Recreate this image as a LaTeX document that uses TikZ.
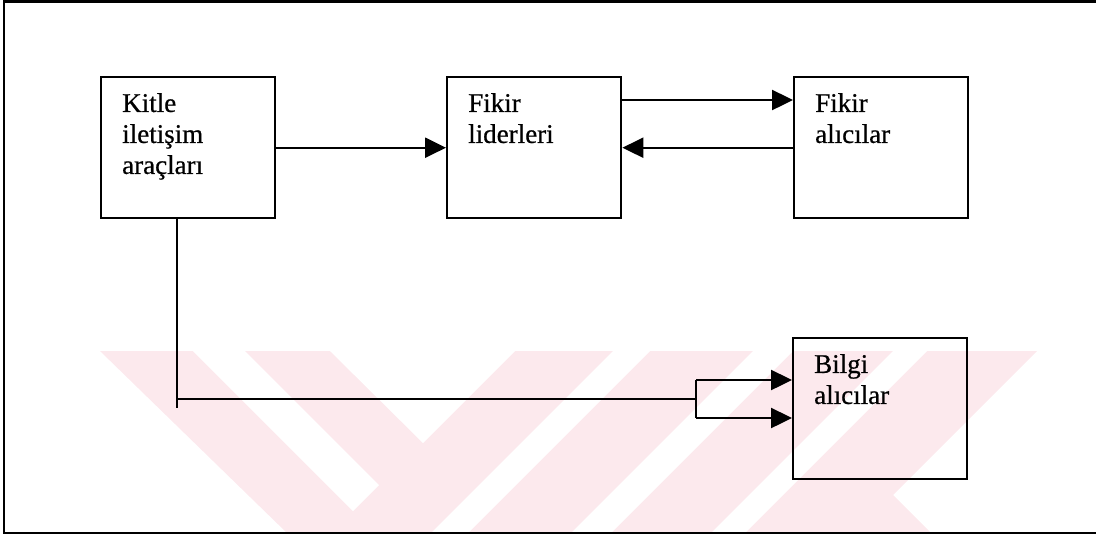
\documentclass[tikz,border=0pt]{standalone}
\usepackage{fontspec}
\setmainfont{Liberation Serif}
\newfontfamily\taramafont[FakeBold=0.6]{Liberation Serif}
\usetikzlibrary{arrows.meta,positioning,calc}
\definecolor{filigran}{RGB}{252,233,237}
\tikzset{every picture/.style={line width=1.2pt}}
\tikzset{kutu/.style={draw, minimum width=87pt, minimum height=70.5pt, anchor=north west, inner sep=0pt}}
\tikzset{yazi/.style={anchor=north west, align=left, inner sep=0pt, xshift=10.5pt, yshift=-8pt, font=\taramafont\fontsize{13.5}{15.5}\selectfont}}
\tikzset{ok/.style={-{Triangle[length=10.5pt,width=10pt]}}}

\begin{document}
\begin{tikzpicture}[x=0.5pt,y=-0.5pt]
    \useasboundingbox (0,0) rectangle (1096,537);
    % filigran
    \fill[filigran] (100,351) -- (1037,351) -- (893,495) -- (931,533) -- (287,533) -- cycle;
    \fill[white] (330,351) -- (423,443) -- (515,351) -- cycle;
    \fill[white] (193,351) -- (245,351) -- (379,485) -- (353,511) -- cycle;
    \fill[white] (613,351) -- (650,351) -- (468,533) -- (431,533) -- cycle;
    \fill[white] (753,351) -- (793,351) -- (611,533) -- (571,533) -- cycle;
    \fill[white] (893,351) -- (927,351) -- (745,533) -- (711,533) -- cycle;
    % çerçeve
    \draw (1096,1.5) -- (4,1.5) -- (4,533) -- (1096,533);
    % kutular
    \node[kutu, label={[yazi]north west:Kitle\\iletişim\\araçları}] (kitle) at (100,76) {};
    \node[kutu, label={[yazi]north west:Fikir\\liderleri}] (lider) at (446,76) {};
    \node[kutu, label={[yazi]north west:Fikir\\alıcılar}] (fikiralici) at (793,76) {};
    \node[kutu, label={[yazi]north west:Bilgi\\alıcılar}] (bilgialici) at (792,337) {};
    % oklar
    \draw[ok] (kitle.east) -- (lider.west);
    \coordinate (ust) at ($(lider.north east)+(0,24)$);
    \draw[ok] (ust) -- (ust -| fikiralici.west);
    \draw[ok] (fikiralici.west) -- (lider.west -| lider.east);
    % alt kol
    \coordinate (dik) at ($(kitle.south west)+(77,0)$);
    \coordinate (kose) at (177,399);
    \coordinate (ayrim) at (696,399);
    \coordinate (ayrim1) at (696,380);
    \coordinate (ayrim2) at (696,418);
    \draw (dik) -- (dik |- 0,408);
    \draw (kose) -- (ayrim);
    \draw (ayrim1) -- (ayrim2);
    \draw[ok] (ayrim1) -- (ayrim1 -| bilgialici.west);
    \draw[ok] (ayrim2) -- (ayrim2 -| bilgialici.west);
\end{tikzpicture}
\end{document}
